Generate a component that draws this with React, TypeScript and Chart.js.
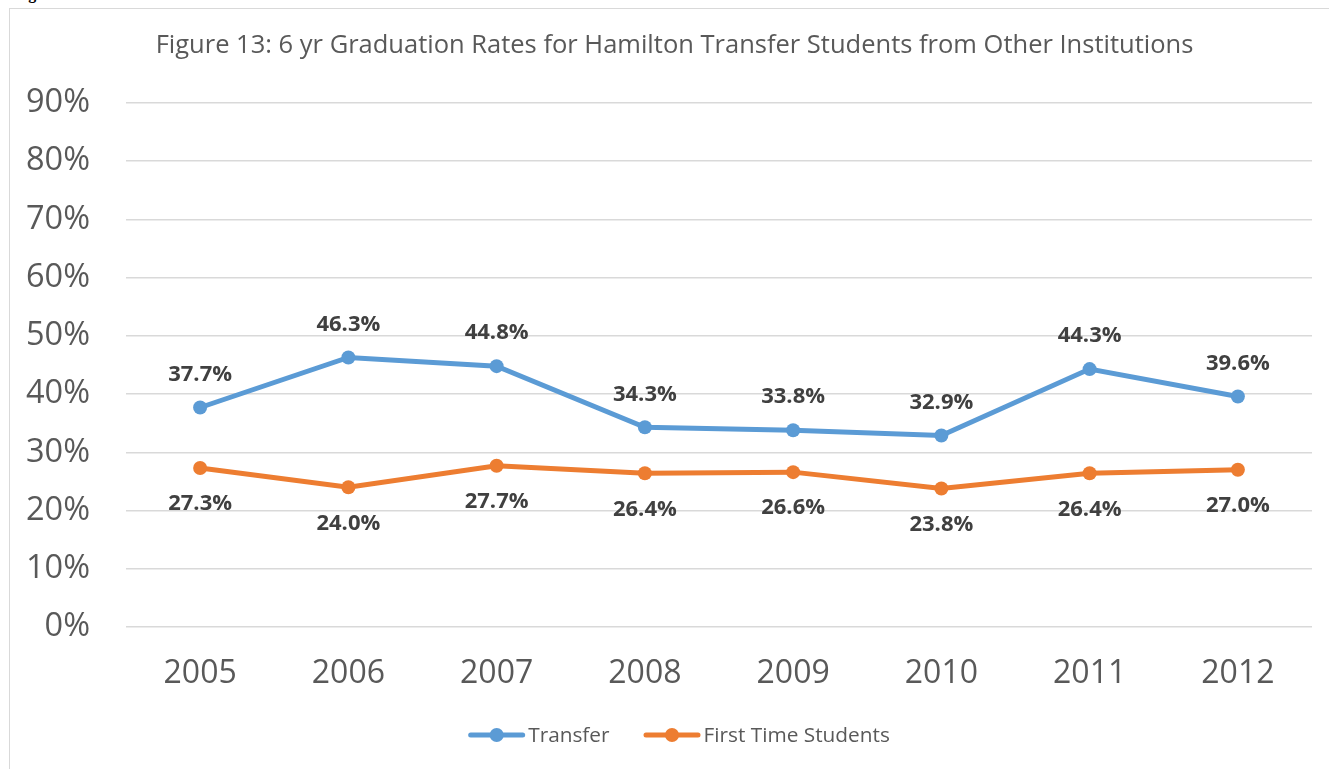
import React, { useEffect, useRef } from "react";
import { Chart, registerables } from "chart.js";

Chart.register(...registerables);

const TITLE = "Figure 13: 6 yr Graduation Rates for Hamilton Transfer Students from Other Institutions";
const YEARS = ["2005", "2006", "2007", "2008", "2009", "2010", "2011", "2012"];
const TRANSFER = [0.377, 0.463, 0.448, 0.343, 0.338, 0.329, 0.443, 0.396];
const FIRST_TIME = [0.273, 0.24, 0.277, 0.264, 0.266, 0.238, 0.264, 0.27];
const SERIES_NAMES = ["Transfer", "First Time Students"];
const Y_MIN = 0;
const Y_MAX = 0.9;
const Y_STEP = 0.1;

const BLUE = "#5B9BD5";
const ORANGE = "#ED7D31";
const TEXT = "#595959";
const LABEL = "#404040";
const FONT = "'Open Sans', 'DejaVu Sans', sans-serif";

const W = 1329;
const H = 769;

const fmtPct = (v: number) => `${(v * 100).toFixed(1)}%`;

const titlePlugin = {
  id: "titleDraw",
  afterDraw(chart: any) {
    const ctx = chart.ctx;
    ctx.save();
    ctx.font = `400 25.5px ${FONT}`;
    ctx.fillStyle = TEXT;
    ctx.textAlign = "center";
    ctx.textBaseline = "middle";
    ctx.fillText(TITLE, 674.5, 46);
    ctx.restore();
  },
};

const dataLabelPlugin = {
  id: "dataLabels",
  afterDatasetsDraw(chart: any) {
    const ctx = chart.ctx;
    ctx.save();
    ctx.font = `700 22px ${FONT}`;
    ctx.fillStyle = LABEL;
    ctx.textAlign = "center";
    ctx.textBaseline = "middle";
    chart.data.datasets.forEach((ds: any, i: number) => {
      const meta = chart.getDatasetMeta(i);
      meta.data.forEach((pt: any, j: number) => {
        const v = ds.data[j] as number;
        const dy = i === 0 ? -33 : 36;
        ctx.fillText(fmtPct(v), pt.x, pt.y + dy);
      });
    });
    ctx.restore();
  },
};

const legendPlugin = {
  id: "customLegend",
  afterDraw(chart: any) {
    const ctx = chart.ctx;
    ctx.save();
    ctx.font = `400 20.8px ${FONT}`;
    const lineW = 57;
    const gapText = 3;
    const gapItem = 34;
    const colors = [BLUE, ORANGE];
    const widths = SERIES_NAMES.map((n) => ctx.measureText(n).width);
    let total = 0;
    widths.forEach((w, i) => {
      total += lineW + gapText + w + (i < widths.length - 1 ? gapItem : 0);
    });
    let x = 679 - total / 2;
    const y = 735;
    SERIES_NAMES.forEach((name, i) => {
      ctx.strokeStyle = colors[i];
      ctx.lineWidth = 5;
      ctx.lineCap = "round";
      ctx.beginPath();
      ctx.moveTo(x + 2.5, y);
      ctx.lineTo(x + lineW - 2.5, y);
      ctx.stroke();
      ctx.fillStyle = colors[i];
      ctx.beginPath();
      ctx.arc(x + lineW / 2, y, 7, 0, Math.PI * 2);
      ctx.fill();
      ctx.fillStyle = TEXT;
      ctx.textAlign = "left";
      ctx.textBaseline = "middle";
      ctx.fillText(name, x + lineW + gapText, y + 1);
      x += lineW + gapText + widths[i] + gapItem;
    });
    ctx.restore();
  },
};

function ChartView() {
  const ref = useRef<HTMLCanvasElement | null>(null);
  useEffect(() => {
    if (!ref.current) return;
    const chart = new Chart(ref.current, {
      type: "line",
      data: {
        labels: YEARS,
        datasets: [
          {
            label: SERIES_NAMES[0],
            data: TRANSFER,
            borderColor: BLUE,
            backgroundColor: BLUE,
            borderWidth: 5,
            pointRadius: 7,
            pointBorderWidth: 0,
            pointBackgroundColor: BLUE,
            tension: 0,
          },
          {
            label: SERIES_NAMES[1],
            data: FIRST_TIME,
            borderColor: ORANGE,
            backgroundColor: ORANGE,
            borderWidth: 5,
            pointRadius: 7,
            pointBorderWidth: 0,
            pointBackgroundColor: ORANGE,
            tension: 0,
          },
        ],
      },
      options: {
        animation: false,
        responsive: false,
        maintainAspectRatio: false,
        devicePixelRatio: 1,
        layout: { padding: { top: 103, right: 17, bottom: 0, left: 0 } },
        plugins: {
          legend: { display: false },
          title: { display: false },
          tooltip: { enabled: false },
        },
        scales: {
          x: {
            offset: true,
            grid: { display: false, drawTicks: false },
            border: { display: false },
            ticks: {
              color: TEXT,
              font: { family: FONT, size: 32, weight: "400" as any },
              padding: 28,
              maxRotation: 0,
              autoSkip: false,
            },
            afterFit(scale: any) {
              scale.height = 142;
            },
          },
          y: {
            min: Y_MIN,
            max: Y_MAX,
            grid: { color: "#D9D9D9", lineWidth: 1.5, drawTicks: false },
            border: { display: false },
            ticks: {
              stepSize: Y_STEP,
              color: TEXT,
              font: { family: FONT, size: 32.5, weight: "400" as any },
              padding: 36,
              callback: (v: any) => `${Math.round(Number(v) * 100)}%`,
            },
            afterFit(scale: any) {
              scale.width = 126;
            },
          },
        },
      },
      plugins: [titlePlugin, dataLabelPlugin, legendPlugin],
    });
    return () => chart.destroy();
  }, []);
  return <canvas ref={ref} width={W} height={H} style={{ position: "absolute", left: 0, top: 0, width: W, height: H }} />;
}

export default function App() {
  return (
    <div style={{ position: "fixed", left: 0, top: 0, width: W, height: H, overflow: "hidden", background: "#fff" }}>
      <div
        style={{
          position: "absolute",
          left: 14,
          top: -15,
          font: "bold 16px 'Liberation Serif', 'Times New Roman', serif",
          color: "#000",
          whiteSpace: "nowrap",
        }}
      >
        Figure 13
      </div>
      <div
        style={{
          position: "absolute",
          left: 9,
          top: 8,
          width: 1340,
          height: 800,
          border: "1.5px solid #D9D9D9",
          boxSizing: "border-box",
        }}
      />
      <ChartView />
    </div>
  );
}
